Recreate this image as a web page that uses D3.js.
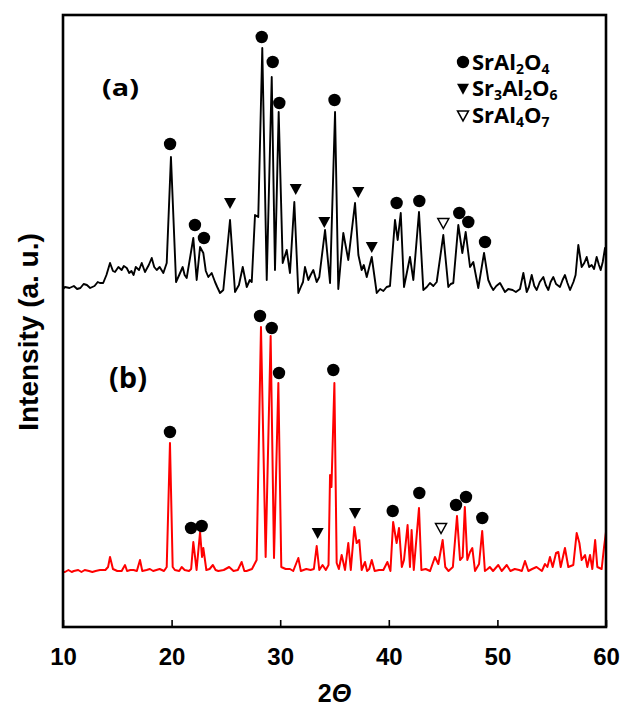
<!DOCTYPE html>
<html>
<head>
<meta charset="utf-8">
<script src="https://cdn.jsdelivr.net/npm/d3@7"></script>
<style>
  body { margin: 0; background: #fff; }
  svg { display: block; }
</style>
</head>
<body>
<svg width="621" height="707"></svg>
<script>
// XRD patterns, [2theta, intensity a.u.]
const patternA = [
  [10.0, 338], [10.18, 340], [10.6, 339], [11.0, 341], [11.3, 338], [11.6, 339], [11.9, 343], [12.2, 342],
  [12.5, 339], [12.9, 341], [13.2, 345], [13.4, 344], [13.7, 344], [14.0, 352], [14.33, 364], [14.6, 356],
  [14.79, 355], [15.1, 360], [15.4, 357], [15.6, 361], [15.87, 359], [16.1, 354], [16.3, 356], [16.5, 352],
  [16.7, 360], [17.0, 357], [17.25, 364], [17.55, 355], [17.9, 362], [18.17, 369], [18.4, 360], [18.63, 357],
  [18.9, 360], [19.24, 354], [19.55, 364], [19.94, 470], [20.41, 345], [20.7, 352], [21.02, 360], [21.2, 352],
  [21.39, 349], [22.0, 389], [22.31, 347], [22.62, 380], [22.92, 374], [23.15, 356], [23.38, 350], [23.69, 354],
  [24.0, 345], [24.2, 340], [24.46, 334], [24.76, 337], [25.38, 407], [25.84, 335], [26.2, 342], [26.55, 360],
  [26.92, 340], [27.2, 347], [27.38, 345], [27.68, 412], [27.98, 410], [28.35, 579], [28.76, 347], [29.22, 550],
  [29.52, 357], [29.86, 515], [30.23, 364], [30.6, 377], [30.9, 354], [31.3, 425], [31.67, 334], [31.9, 340],
  [32.1, 345], [32.28, 360], [32.59, 347], [32.8, 352], [33.05, 357], [33.36, 345], [33.6, 350], [34.13, 397],
  [34.59, 344], [35.05, 515], [35.35, 338], [35.81, 394], [36.27, 367], [36.89, 424], [37.2, 372], [37.5, 357],
  [37.7, 362], [37.97, 350], [38.43, 370], [38.89, 334], [39.2, 338], [39.5, 336], [39.8, 340], [40.11, 341],
  [40.57, 407], [40.82, 387], [41.1, 414], [41.4, 340], [41.95, 370], [42.26, 347], [42.78, 415], [43.18, 337],
  [43.5, 340], [43.79, 344], [44.1, 341], [44.41, 345], [45.02, 392], [45.48, 340], [45.7, 343], [45.94, 344],
  [46.4, 402], [46.77, 374], [47.08, 395], [47.48, 360], [47.78, 365], [48.24, 339], [48.77, 374], [49.16, 347],
  [49.4, 341], [49.62, 337], [49.9, 341], [50.24, 344], [50.7, 335], [51.0, 338], [51.4, 337], [51.7, 335],
  [52.08, 338], [52.39, 354], [52.7, 335], [52.9, 340], [53.16, 352], [53.4, 341], [53.62, 337], [53.9, 345],
  [54.23, 350], [54.45, 342], [54.69, 337], [54.9, 345], [55.15, 350], [55.4, 343], [55.76, 340], [56.0, 347],
  [56.22, 352], [56.45, 344], [56.69, 337], [57.0, 345], [57.2, 352], [57.45, 382], [57.76, 360], [58.0, 364],
  [58.22, 370], [58.45, 360], [58.68, 362], [58.9, 358], [59.14, 370], [59.35, 362], [59.51, 357], [59.7, 365],
  [59.91, 379], [60.0, 372]
];

const patternB = [
  [10.0, 55], [10.18, 55], [10.5, 57], [10.8, 55], [11.0, 56], [11.4, 57], [11.7, 55], [12.0, 57], [12.4, 56],
  [12.7, 55], [13.0, 56], [13.4, 57], [13.9, 57], [14.15, 60], [14.33, 70], [14.6, 58], [15.0, 56],
  [15.4, 56], [15.71, 62], [15.9, 56], [16.2, 57], [16.5, 57], [16.8, 56], [17.09, 67], [17.3, 56],
  [17.7, 57], [18.0, 58], [18.3, 56], [18.6, 57], [18.9, 58], [19.3, 56], [19.55, 60], [19.85, 184],
  [20.1, 60], [20.3, 57], [20.7, 56], [20.93, 60], [21.2, 57], [21.6, 56], [21.8, 58], [22.0, 85], [22.3, 57],
  [22.62, 95], [22.8, 70], [22.92, 79], [23.2, 57], [23.5, 58], [23.8, 62], [24.05, 57], [24.3, 56],
  [24.8, 57], [25.3, 60], [25.7, 56], [26.1, 57], [26.45, 65], [26.7, 56], [26.9, 56], [27.4, 58],
  [27.83, 67], [28.23, 300], [28.66, 70], [29.12, 291], [29.43, 69], [29.83, 244], [30.1, 60], [30.5, 58],
  [30.9, 58], [31.2, 56], [31.67, 69], [31.9, 56], [32.4, 58], [32.8, 57], [33.1, 58], [33.36, 81],
  [33.6, 57], [33.9, 62], [34.2, 57], [34.45, 62], [34.59, 152], [34.72, 140], [34.99, 244], [35.2, 64],
  [35.4, 58], [35.66, 72], [35.97, 57], [36.27, 84], [36.5, 57], [36.83, 100], [37.04, 84], [37.28, 87],
  [37.5, 57], [37.81, 65], [38.0, 56], [38.2, 58], [38.43, 67], [38.7, 56], [39.1, 57], [39.5, 57],
  [39.87, 65], [40.15, 56], [40.4, 105], [40.72, 84], [40.94, 99], [41.2, 60], [41.4, 67], [41.73, 102],
  [41.95, 60], [42.1, 97], [42.3, 57], [42.78, 119], [43.0, 57], [43.4, 58], [43.8, 56], [44.25, 70],
  [44.56, 63], [44.96, 87], [45.2, 60], [45.5, 56], [45.9, 60], [46.28, 111], [46.56, 67], [46.8, 70],
  [47.0, 120], [47.23, 67], [47.48, 75], [47.69, 79], [47.94, 56], [48.31, 63], [48.6, 96], [48.85, 56],
  [49.1, 58], [49.3, 60], [49.6, 56], [50.08, 62], [50.4, 56], [50.86, 62], [51.2, 56], [51.6, 58],
  [52.0, 57], [52.25, 56], [52.54, 66], [52.85, 56], [53.2, 58], [53.6, 60], [54.1, 56], [54.38, 63],
  [54.6, 60], [54.84, 70], [55.09, 60], [55.4, 74], [55.61, 75], [55.83, 60], [56.22, 79], [56.53, 60],
  [56.99, 62], [57.3, 94], [57.55, 84], [57.76, 67], [58.07, 72], [58.28, 60], [58.53, 72], [58.74, 58],
  [59.0, 87], [59.2, 60], [59.6, 58], [59.82, 80], [60.0, 95]
];

// phase markers: [2theta, intensity, phase]
const markersA = [
  [19.86, 483, 0], [22.15, 402, 0], [22.98, 389, 0], [25.38, 424, 1], [28.3, 590, 0], [29.31, 565, 0],
  [29.92, 524, 0], [31.43, 438, 1], [34.06, 405, 1], [35.0, 527, 0], [37.19, 435, 1], [38.43, 380, 1],
  [40.72, 424, 0], [42.81, 426, 0], [45.02, 404, 2], [46.49, 414, 0], [47.32, 405, 0], [48.86, 385, 0]
];
const markersB = [
  [19.85, 195, 0], [21.79, 99, 0], [22.77, 101, 0], [28.14, 311, 0], [29.22, 299, 0], [29.89, 254, 0],
  [33.45, 94, 1], [34.89, 257, 0], [36.89, 114, 1], [40.36, 116, 0], [42.81, 134, 0], [44.81, 99, 2],
  [46.19, 122, 0], [47.11, 130, 0], [48.61, 109, 0]
];

const phases = [
  {name: "SrAl", parts: [["2", true], ["O", false], ["4", true]]},
  {name: "Sr", parts: [["3", true], ["Al", false], ["2", true], ["O", false], ["6", true]]},
  {name: "SrAl", parts: [["4", true], ["O", false], ["7", true]]}
];

const xTicks = [10, 20, 30, 40, 50, 60];

const W = 621, H = 707;
const margin = {left: 63, right: 15, top: 15, bottom: 80};

const svg = d3.select('svg');

const x = d3.scaleLinear().domain([10, 60]).range([margin.left, W - margin.right]);
const y = d3.scaleLinear().domain([0, 612]).range([H - margin.bottom, margin.top]);

svg.append('defs').append('clipPath').attr('id', 'clip')
  .append('rect')
  .attr('x', x(10)).attr('y', y(612))
  .attr('width', x(60) - x(10)).attr('height', y(0) - y(612));

const line = d3.line()
  .x(d => x(d[0]))
  .y(d => y(d[1]));

const plot = svg.append('g').attr('clip-path', 'url(#clip)');

plot.append('path')
  .datum(patternA)
  .attr('d', line)
  .attr('fill', 'none')
  .attr('stroke', '#000')
  .attr('stroke-width', 1.9)
  .attr('stroke-linejoin', 'round');

plot.append('path')
  .datum(patternB)
  .attr('d', line)
  .attr('fill', 'none')
  .attr('stroke', '#ff0000')
  .attr('stroke-width', 2)
  .attr('stroke-linejoin', 'round');

// marker shapes
const tri = 'M-6,-5L6,-5L0,6Z';
const triOpen = 'M-5.5,-4.5L5.5,-4.5L0,5.5Z';

function drawMarker(g, type) {
  if (type === 0) {
    g.append('circle').attr('r', 6.2).attr('fill', '#000');
  } else if (type === 1) {
    g.append('path').attr('d', tri).attr('fill', '#000');
  } else {
    g.append('path').attr('d', triOpen).attr('fill', '#fff')
      .attr('stroke', '#000').attr('stroke-width', 1.5);
  }
}

[markersA, markersB].forEach(function(list) {
  list.forEach(function(m) {
    const g = svg.append('g')
      .attr('transform', 'translate(' + x(m[0]) + ',' + y(m[1]) + ')');
    drawMarker(g, m[2]);
  });
});

// frame
svg.append('rect')
  .attr('x', x(10)).attr('y', y(612))
  .attr('width', x(60) - x(10)).attr('height', y(0) - y(612))
  .attr('fill', 'none')
  .attr('stroke', '#000')
  .attr('stroke-width', 2.6);

// bottom axis, ticks pointing inward
const xAxis = svg.append('g')
  .attr('transform', 'translate(0,' + y(0) + ')')
  .call(d3.axisBottom(x).tickValues(xTicks).tickSize(-7).tickFormat(d3.format('d')));
xAxis.select('.domain').remove();
xAxis.selectAll('line').attr('stroke-width', 1.6);
xAxis.selectAll('text')
  .attr('y', 38)
  .attr('dy', 0)
  .style('font-family', '"Liberation Sans", Arial, sans-serif')
  .style('font-weight', 'bold')
  .style('font-size', '24px')
  .attr('fill', '#000');

// axis titles
const title = svg.append('text')
  .attr('x', (x(10) + x(60)) / 2)
  .attr('y', 702)
  .attr('text-anchor', 'middle')
  .style('font-family', '"Liberation Sans", Arial, sans-serif')
  .style('font-weight', 'bold')
  .style('font-size', '25px');
title.append('tspan').text('2');
title.append('tspan').style('font-style', 'italic').text('\u0398');

svg.append('text')
  .attr('transform', 'translate(38,332) rotate(-90)')
  .attr('text-anchor', 'middle')
  .style('font-family', '"Liberation Sans", Arial, sans-serif')
  .style('font-weight', 'bold')
  .style('font-size', '28px')
  .text('Intensity (a. u.)');

// panel labels
svg.append('text')
  .attr('transform', 'translate(102,96) scale(1.2,1)')
  .style('font-family', '"Open Sans", sans-serif')
  .style('font-weight', 'bold')
  .style('font-size', '24px')
  .text('(a)');

svg.append('text')
  .attr('x', 109).attr('y', 388)
  .style('font-family', '"Open Sans", sans-serif')
  .style('font-weight', 'bold')
  .style('font-size', '29px')
  .text('(b)');

// legend
const legend = svg.append('g').attr('transform', 'translate(463,62)');
phases.forEach(function(p, i) {
  const row = legend.append('g').attr('transform', 'translate(0,' + (i * 26.7) + ')');
  drawMarker(row, i);
  const t = row.append('text')
    .attr('x', 9).attr('y', 7.5)
    .style('font-family', '"Open Sans", sans-serif')
    .style('font-weight', 'bold')
    .style('font-size', '22px');
  t.append('tspan').text(p.name);
  p.parts.forEach(function(part) {
    const s = t.append('tspan').text(part[0]);
    if (part[1]) {
      s.style('font-size', '14px').attr('dy', 4);
    } else {
      s.attr('dy', -4);
    }
  });
});
</script>
</body>
</html>
